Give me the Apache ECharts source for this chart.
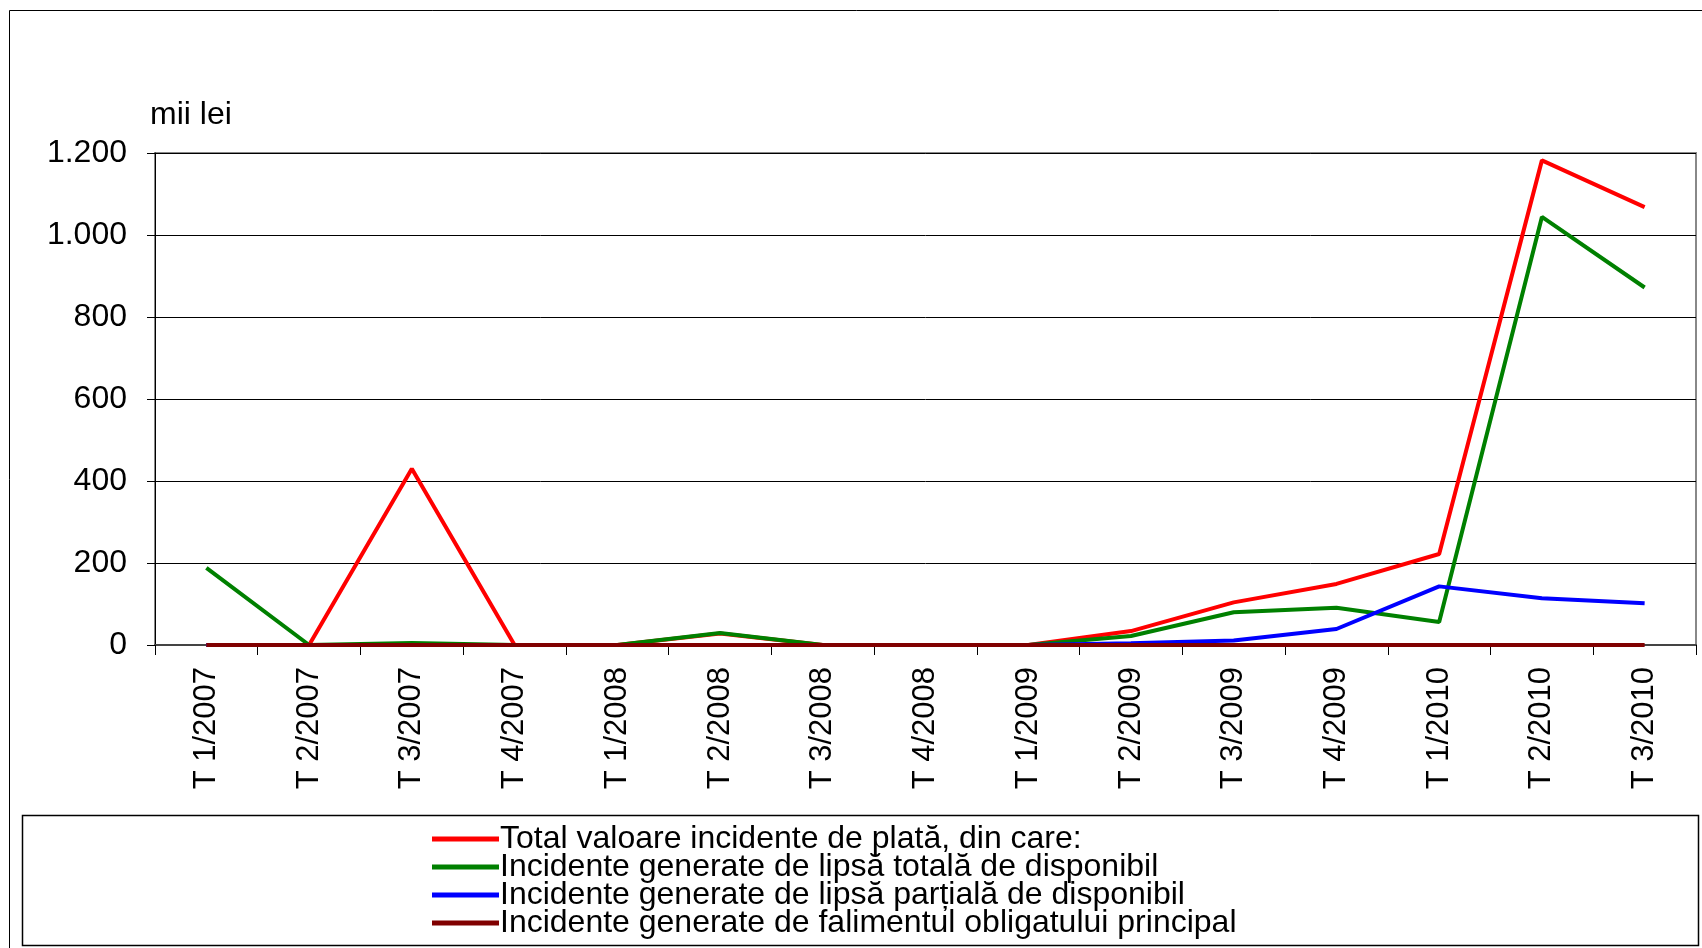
<!DOCTYPE html>
<html>
<head>
<meta charset="utf-8">
<script src="https://cdn.jsdelivr.net/npm/echarts@6/dist/echarts.min.js"></script>
<style>
  html, body { margin: 0; padding: 0; background: #fff; }
  #main { width: 1702px; height: 948px; }
</style>
</head>
<body>
<div id="main"></div>
<script>
// trimestre
var categories = ['T 1/2007', 'T 2/2007', 'T 3/2007', 'T 4/2007', 'T 1/2008', 'T 2/2008', 'T 3/2008', 'T 4/2008',
    'T 1/2009', 'T 2/2009', 'T 3/2009', 'T 4/2009', 'T 1/2010', 'T 2/2010', 'T 3/2010'];
var totalVal = [0, 0, 430, 0, 0, 28, 0, 0, 0, 34, 104, 149, 222, 1182, 1068];
var lipsaTotala = [188, 0, 5, 0, 0, 29, 0, 0, 0, 22, 80, 91, 56, 1044, 872];
var lipsaPartiala = [0, 0, 0, 0, 0, 0, 0, 0, 0, 4, 11, 39, 143, 114, 102];
var faliment = [0, 0, 0, 0, 0, 0, 0, 0, 0, 0, 0, 0, 0, 0, 0];
var seriesNames = [
    'Total valoare incidente de plată, din care:',
    'Incidente generate de lipsă totală de disponibil',
    'Incidente generate de lipsă parțială de disponibil',
    'Incidente generate de falimentul obligatului principal'
];
var yTicks = [0, 200, 400, 600, 800, 1000, 1200];

var font = '"Liberation Sans", Arial, sans-serif';

function fmt(v) {
    // separator de mii cu punct
    return String(v).replace(/\B(?=(\d{3})+(?!\d))/g, '.');
}

function line(name, data, color) {
    return {
        name: name,
        type: 'line',
        data: data,
        symbol: 'none',
        lineStyle: {color: color, width: 4},
        itemStyle: {color: color}
    };
}

var myChart = echarts.init(document.getElementById('main'));
var option = {
    animation: false,
    textStyle: {fontFamily: font},
    graphic: [
        {
            type: 'rect',
            shape: {x: 9.5, y: 10.5, width: 1720, height: 960},
            style: {fill: 'none', stroke: '#000', lineWidth: 1}
        },
        {
            type: 'rect',
            shape: {x: 22.5, y: 815.5, width: 1676, height: 130},
            style: {fill: 'none', stroke: '#000', lineWidth: 1.5}
        }
    ],
    grid: {
        left: 155, right: 6, top: 153, bottom: 303,
        show: true, borderColor: '#888', borderWidth: 2
    },
    legend: {
        data: seriesNames,
        orient: 'vertical',
        left: 427,
        top: 818,
        height: 300,
        itemWidth: 67,
        itemHeight: 5,
        itemGap: -4,
        icon: 'rect',
        textStyle: {fontFamily: font, fontSize: 32, color: '#000', padding: [0, 0, 0, -4]}
    },
    xAxis: {
        type: 'category',
        data: categories,
        boundaryGap: true,
        axisLine: {lineStyle: {color: '#444', width: 2}},
        axisTick: {show: true, length: 10, lineStyle: {color: '#000'}},
        axisLabel: {rotate: 90, fontSize: 31, color: '#000', margin: 22, interval: 0}
    },
    yAxis: {
        type: 'value',
        min: 0,
        max: 1200,
        interval: 200,
        name: 'mii lei',
        nameLocation: 'end',
        nameGap: 22,
        nameTextStyle: {fontSize: 32, color: '#000', align: 'left', padding: [0, 0, 0, -5]},
        axisLine: {show: true, lineStyle: {color: '#000', width: 1}},
        axisTick: {show: true, length: 8, lineStyle: {color: '#000'}},
        axisLabel: {
            fontSize: 32, color: '#000', margin: 28,
            formatter: function (v) { return yTicks.indexOf(v) >= 0 ? fmt(v) : ''; }
        },
        splitLine: {lineStyle: {color: '#000', width: 1}}
    },
    series: [
        line(seriesNames[0], totalVal, '#ff0000'),
        line(seriesNames[1], lipsaTotala, '#008000'),
        line(seriesNames[2], lipsaPartiala, '#0000ff'),
        line(seriesNames[3], faliment, '#800000')
    ]
};
myChart.setOption(option);
</script>
</body>
</html>
